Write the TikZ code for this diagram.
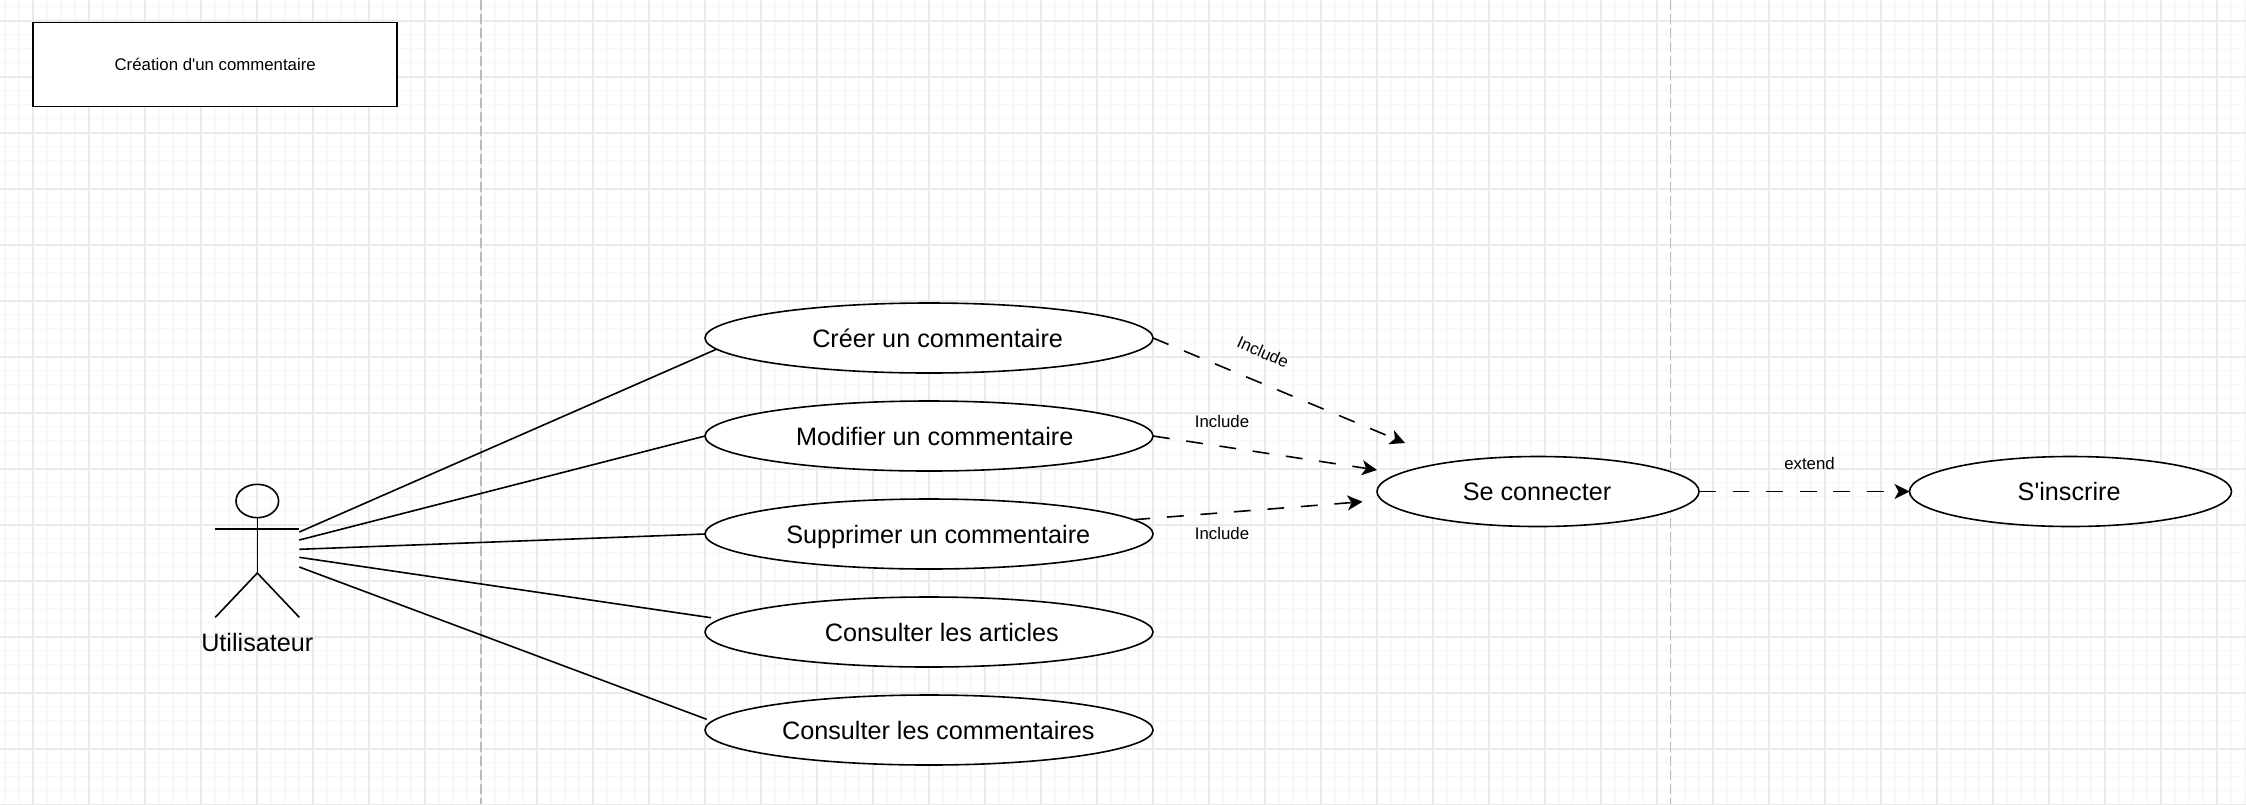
\documentclass[tikz,border=0pt]{standalone}
\usepackage{fontspec}
\setmainfont{Liberation Sans}[Ligatures=TeXOff]
\usepackage{tikz}
\usetikzlibrary{positioning, arrows.meta, shapes.geometric}
\definecolor{gridminor}{HTML}{F7F7F7}
\definecolor{gridmajor}{HTML}{EAEAEA}
\definecolor{lanegray}{HTML}{BBBBBB}
\newcommand{\uclabel}[2]{\makebox[0pt]{\hspace*{#1}#2}}

\begin{document}
\begin{tikzpicture}[
    x=0.5pt, y=-0.5pt,
    usecase/.style={ellipse, draw, fill=white, line width=0.8pt, minimum width=224pt, minimum height=35pt,
                inner sep=0pt, outer sep=0pt, text height=9pt, text depth=0pt, font=\fontsize{12.6}{15}\selectfont},
    usecasesmall/.style={usecase, minimum width=161pt},
    titlebox/.style={rectangle, draw, fill=white, line width=0.8pt, minimum width=182pt, minimum height=42pt,
                inner sep=0pt, outer sep=0pt, font=\fontsize{8.4}{10}\selectfont},
    linklabel/.style={inner sep=0pt, font=\fontsize{8.4}{10}\selectfont},
    assoc/.style={line width=0.8pt},
    dep/.style={-{Stealth[length=7.5pt, width=7.5pt, inset=2pt]}, line width=0.8pt, dash pattern=on 8.4pt off 8.4pt},
    limb/.style={line width=0.8pt},
]
\useasboundingbox (0,0) rectangle (2246,804);
\fill[white] (0,0) rectangle (2246,804);

% Grid
\foreach \gx in {0,...,160} {
    \draw[gridminor, line width=0.7pt] ({5+14*\gx},0) -- ({5+14*\gx},804);
}
\foreach \gy in {0,...,57} {
    \draw[gridminor, line width=0.7pt] (0,{6.7+14*\gy}) -- (2246,{6.7+14*\gy});
}
\foreach \gx in {0,...,39} {
    \draw[gridmajor, line width=0.85pt] ({33+56*\gx},0) -- ({33+56*\gx},804);
}
\foreach \gy in {0,...,14} {
    \draw[gridmajor, line width=0.85pt] (0,{20.7+56*\gy}) -- (2246,{20.7+56*\gy});
}

% Lanes
\coordinate (laneAtop) at (481,0);
\coordinate (laneAbot) at (481,804);
\coordinate (laneBtop) at (1670.5,0);
\coordinate (laneBbot) at (1670.5,804);
\draw[lanegray, line width=0.75pt, dash pattern=on 5pt off 2pt] (laneAtop) -- (laneAbot);
\draw[lanegray, line width=0.75pt, dash pattern=on 5pt off 2pt] (laneBtop) -- (laneBbot);

% Title
\node[titlebox] (title) at (215.2,64.5) {Création d'un commentaire};

% Use cases
\node[usecase] (creer) at (929,338) {\uclabel{8.6pt}{Créer un commentaire}};
\node[usecase] (modifier) at (929,436) {\uclabel{5.7pt}{Modifier un commentaire}};
\node[usecase] (supprimer) at (929,534) {\uclabel{9.3pt}{Supprimer un commentaire}};
\node[usecase] (articles) at (929,632) {\uclabel{12.9pt}{Consulter les articles}};
\node[usecase] (lire) at (929,730) {\uclabel{9.3pt}{Consulter les commentaires}};
\node[usecasesmall] (connecter) at (1538,491.5) {\uclabel{-1pt}{Se connecter}};
\node[usecasesmall] (inscrire) at (2070.5,491.5) {\uclabel{-1.4pt}{S'inscrire}};

% Actor
\node[ellipse, draw, line width=0.8pt, minimum width=21.3pt, minimum height=16.7pt, inner sep=0pt, outer sep=0pt] (head) at (257.3,501) {};
\coordinate (hip) at (257.3,573);
\coordinate (armL) at (215.3,528.7);
\coordinate (armR) at (299.3,528.7);
\coordinate (footL) at (215.3,617.3);
\coordinate (footR) at (299.3,617.3);
\draw[limb] (head.south) -- (hip);
\draw[limb] (armL) -- (armR);
\draw[limb] (footL) -- (hip) -- (footR);
\node[inner sep=0pt, font=\fontsize{12.6}{15}\selectfont] (actor) at (257.3,642) {Utilisateur};

% Associations
\coordinate (a1) at (299.3,532);
\coordinate (a2) at (299.3,540);
\coordinate (a3) at (299.3,549.3);
\coordinate (a4) at (299.3,557.3);
\coordinate (a5) at (299.3,567);
\coordinate (end4) at (711,617.7);
\coordinate (end5) at (706.7,719.3);
\draw[assoc] (a1) -- (creer.183);
\draw[assoc] (a2) -- (modifier.west);
\draw[assoc] (a3) -- (supprimer.west);
\draw[assoc] (a4) -- (end4);
\draw[assoc] (a5) -- (end5);

% Dependencies
\coordinate (inc1) at (1405,443);
\coordinate (inc2) at (1377,470);
\coordinate (inc3) at (1362.5,501.7);
\draw[dep] (creer.east) -- (inc1);
\draw[dep] (modifier.east) -- (inc2);
\draw[dep] (supprimer.4.5) -- (inc3);
\draw[dep] (connecter.east) -- (inscrire.west);

% Labels
\node[linklabel, rotate=-24] (lab1) at (1263,352) {Include};
\node[linklabel] (lab2) at (1222,421) {Include};
\node[linklabel] (lab3) at (1222,533) {Include};
\node[linklabel] (lab4) at (1809.5,463) {extend};
\end{tikzpicture}
\end{document}
